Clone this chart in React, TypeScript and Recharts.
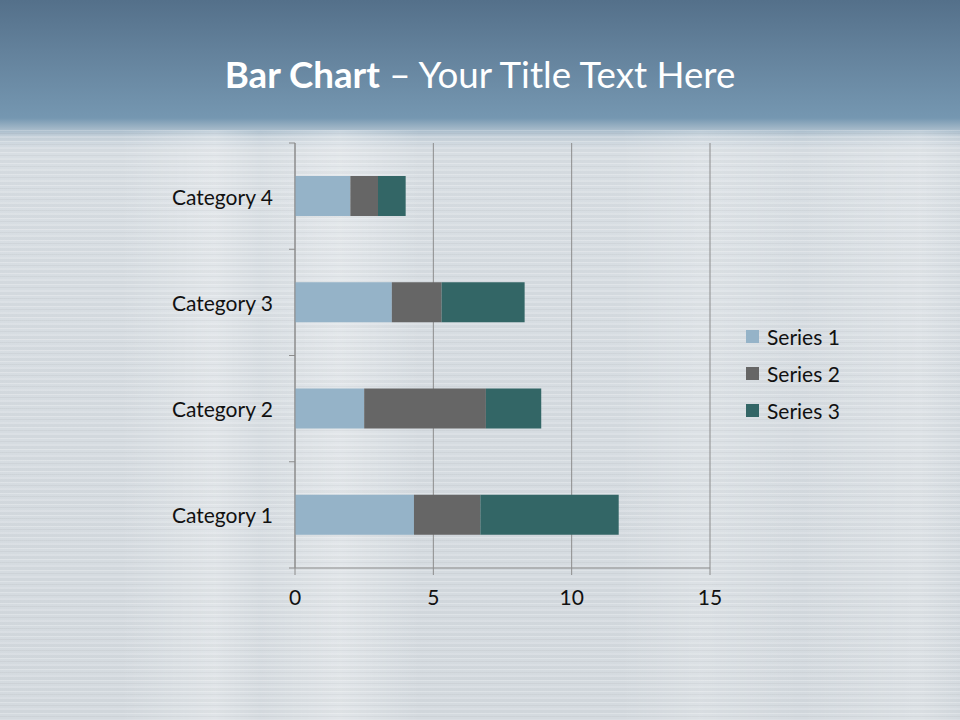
import React from 'react';
import { BarChart, Bar, XAxis, YAxis, CartesianGrid, Legend } from 'recharts';

const categories = ['Category 1', 'Category 2', 'Category 3', 'Category 4'];
const series1 = [4.3, 2.5, 3.5, 2];
const series2 = [2.4, 4.4, 1.8, 1];
const series3 = [5, 2, 3, 1];
const seriesNames = ['Series 1', 'Series 2', 'Series 3'];
const seriesColors = ['#95b3c8', '#666666', '#336666'];
const xTicks = [0, 5, 10, 15];

const FONT = 'Lato, "Open Sans", sans-serif';
const AXIS = '#8c8c8c';
const PLOT_TOP = 143;
const PLOT_BOTTOM = 568;
const BAND = (PLOT_BOTTOM - PLOT_TOP) / categories.length;

const data = categories.map((name, i) => ({
  name,
  s1: series1[i],
  s2: series2[i],
  s3: series3[i],
}));
const keys = ['s1', 's2', 's3'];

// category label plus a tick mark on the band edges (like the office chart)
const CategoryTick = (props: any) => {
  const { x, y, payload } = props;
  const axisX = x + 22;
  return (
    <g>
      <text x={x} y={y} textAnchor="end" dominantBaseline="central" fontSize={21} fontFamily={FONT} fill="#111">
        {payload.value}
      </text>
      <line x1={axisX - 6} x2={axisX} y1={y - BAND / 2} y2={y - BAND / 2} stroke={AXIS} />
      {payload.index === 0 && (
        <line x1={axisX - 6} x2={axisX} y1={y + BAND / 2} y2={y + BAND / 2} stroke={AXIS} />
      )}
    </g>
  );
};

const LegendBox = () => (
  <div style={{ fontFamily: FONT, fontSize: 21, color: '#111' }}>
    {seriesNames.map((n, i) => (
      <div key={n} style={{ display: 'flex', alignItems: 'center', height: 37 }}>
        <span style={{ width: 13, height: 13, background: seriesColors[i], marginRight: 8, display: 'inline-block' }} />
        <span>{n}</span>
      </div>
    ))}
  </div>
);

export default function App() {
  return (
    <div style={{ position: 'fixed', left: 0, top: 0, width: 960, height: 720, overflow: 'hidden' }}>
      {/* brushed metal slide background */}
      <div
        style={{
          position: 'absolute',
          inset: 0,
          background:
            'linear-gradient(180deg, #54708a 0px, #63819b 50px, #7597b1 118px, #9fb5c6 128px, #c8d3dc 137px, #d8dee3 150px, #d4dadf 720px)',
        }}
      />
      <div
        style={{
          position: 'absolute',
          left: 0,
          top: 130,
          width: 960,
          height: 590,
          background:
            'linear-gradient(90deg, rgba(255,255,255,0) 120px, rgba(255,255,255,0.28) 215px, rgba(255,255,255,0.05) 260px, rgba(255,255,255,0.3) 340px, rgba(255,255,255,0) 420px, rgba(255,255,255,0) 620px, rgba(255,255,255,0.18) 700px, rgba(255,255,255,0) 800px, rgba(255,255,255,0.2) 920px, rgba(255,255,255,0) 960px)',
        }}
      />
      <div
        style={{
          position: 'absolute',
          left: 0,
          top: 130,
          width: 960,
          height: 590,
          background:
            'repeating-linear-gradient(180deg, rgba(255,255,255,0.22) 0px, rgba(255,255,255,0.22) 1px, rgba(255,255,255,0) 1px, rgba(255,255,255,0) 3px, rgba(0,0,0,0.035) 3px, rgba(0,0,0,0.035) 4px, rgba(255,255,255,0) 4px, rgba(255,255,255,0) 6px, rgba(255,255,255,0.12) 6px, rgba(255,255,255,0.12) 8px, rgba(0,0,0,0.02) 8px, rgba(0,0,0,0.02) 11px)',
        }}
      />
      <div
        style={{
          position: 'absolute',
          left: 0,
          top: 52,
          width: 960,
          textAlign: 'center',
          color: '#fff',
          fontFamily: FONT,
          fontSize: 36.7,
        }}
      >
        <span style={{ fontWeight: 700 }}>Bar Chart</span> – Your Title Text Here
      </div>
      <div style={{ position: 'absolute', left: 0, top: 0 }}>
        <BarChart
          width={960}
          height={720}
          data={data}
          layout="vertical"
          margin={{ top: PLOT_TOP, right: 250, bottom: 720 - PLOT_BOTTOM - 50, left: 0 }}
        >
          <CartesianGrid horizontal={false} stroke={AXIS} strokeWidth={1} />
          <XAxis
            type="number"
            domain={[0, 15]}
            ticks={xTicks}
            height={50}
            stroke={AXIS}
            tickSize={7}
            tickMargin={15}
            tick={{ fill: '#111', fontSize: 21, fontFamily: FONT }}
          />
          <YAxis
            type="category"
            dataKey="name"
            reversed
            width={295}
            stroke={AXIS}
            tickLine={false}
            tickSize={6}
            tickMargin={16}
            tick={<CategoryTick />}
          />
          <Legend
            layout="vertical"
            align="center"
            verticalAlign="middle"
            content={<LegendBox />}
            wrapperStyle={{ left: 746, top: 318, width: 140 }}
          />
          {keys.map((k, i) => (
            <Bar
              key={k}
              dataKey={k}
              name={seriesNames[i]}
              stackId="a"
              fill={seriesColors[i]}
              barSize={40}
              isAnimationActive={false}
            />
          ))}
        </BarChart>
      </div>
    </div>
  );
}
